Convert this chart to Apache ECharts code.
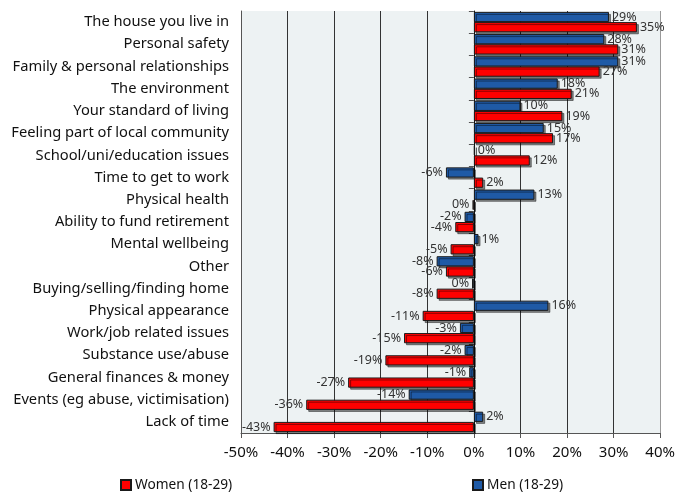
<!DOCTYPE html>
<html>
<head>
<meta charset="utf-8">
<script src="https://cdn.jsdelivr.net/npm/echarts@6/dist/echarts.min.js"></script>
<style>
html,body{margin:0;padding:0;background:#fff;}
#c{width:678px;height:492px;}
</style>
</head>
<body>
<div id="c"></div>
<script>
var categories = [
  'The house you live in',
  'Personal safety',
  'Family & personal relationships',
  'The environment',
  'Your standard of living',
  'Feeling part of local community',
  'School/uni/education issues',
  'Time to get to work',
  'Physical health',
  'Ability to fund retirement',
  'Mental wellbeing',
  'Other',
  'Buying/selling/finding home',
  'Physical appearance',
  'Work/job related issues',
  'Substance use/abuse',
  'General finances & money',
  'Events (eg abuse, victimisation)',
  'Lack of time'
];
var men = [29, 28, 31, 18, 10, 15, 0.2, -6, 13, -2, 1, -8, -0.4, 16, -3, -2, -1, -14, 2];
var women = [35, 31, 27, 21, 19, 17, 12, 2, -0.3, -4, -5, -6, -8, -11, -15, -19, -27, -36, -43];
var xTicks = { min: -50, max: 40, interval: 10 };

function toData(arr) {
  return arr.map(function (v) {
    return { value: v, label: { position: v >= 0 ? 'right' : 'left' } };
  });
}

var fontFam = '"Noto Sans", "Open Sans", sans-serif';
var barStyle = function (color) {
  return {
    color: color,
    borderColor: '#1a1a1a',
    borderWidth: 1,
    shadowColor: 'rgba(0,0,0,0.45)',
    shadowOffsetX: 2,
    shadowOffsetY: 2,
    shadowBlur: 0
  };
};
var labelStyle = {
  show: true,
  fontSize: 12.5,
  color: '#333',
  fontFamily: fontFam,
  distance: 3,
  formatter: function (p) { return Math.round(p.value) + '%'; }
};

var chart = echarts.init(document.getElementById('c'));
chart.setOption({
  animation: false,
  textStyle: { fontFamily: fontFam },
  grid: {
    left: 241, right: 14, top: 11, bottom: 59,
    show: true, backgroundColor: '#EDF2F3', borderWidth: 0
  },
  legend: [
    {
      data: ['Women (18-29)'], left: 120, top: 478, padding: 0, icon: 'rect',
      itemWidth: 10, itemHeight: 10, itemGap: 6,
      textStyle: { fontSize: 13.7, color: '#111', fontFamily: fontFam, padding: [0, 0, 0, -1] }
    },
    {
      data: ['Men (18-29)'], left: 472, top: 478, padding: 0, icon: 'rect',
      itemWidth: 10, itemHeight: 10, itemGap: 6,
      textStyle: { fontSize: 13.7, color: '#111', fontFamily: fontFam, padding: [0, 0, 0, -1] }
    }
  ],
  xAxis: {
    type: 'value',
    min: xTicks.min, max: xTicks.max, interval: xTicks.interval,
    axisLine: { show: true, onZero: false, lineStyle: { color: '#555', width: 1 } },
    axisTick: { show: true, length: 5, lineStyle: { color: '#555' } },
    axisLabel: { formatter: '{value}%', fontSize: 15, color: '#111', margin: 12, fontFamily: fontFam },
    splitLine: {
      show: true,
      lineStyle: { color: ['#666', '#333', '#333', '#333', '#333', '#111', '#333', '#333', '#333', '#999'], width: 1 }
    }
  },
  yAxis: [
    {
      type: 'category',
      data: categories,
      inverse: true,
      position: 'left',
      axisLine: { show: true, onZero: false, lineStyle: { color: '#555' } },
      axisTick: { show: false },
      axisLabel: { fontSize: 14.7, color: '#111', margin: 12, fontFamily: fontFam }
    },
    {
      type: 'category',
      data: categories,
      inverse: true,
      position: 'right',
      axisLine: { show: true, onZero: true, lineStyle: { color: '#111' } },
      axisTick: { show: true, inside: true, length: 5, lineStyle: { color: '#555' } },
      axisLabel: { show: false }
    }
  ],
  series: [
    {
      name: 'Men (18-29)', type: 'bar', yAxisIndex: 0,
      data: toData(men),
      barGap: '0%', barCategoryGap: '8%',
      itemStyle: barStyle('#1F5AA6'),
      label: labelStyle
    },
    {
      name: 'Women (18-29)', type: 'bar', yAxisIndex: 0,
      data: toData(women),
      barGap: '0%', barCategoryGap: '8%',
      itemStyle: barStyle('#FF0000'),
      label: labelStyle
    }
  ]
});
</script>
</body>
</html>
